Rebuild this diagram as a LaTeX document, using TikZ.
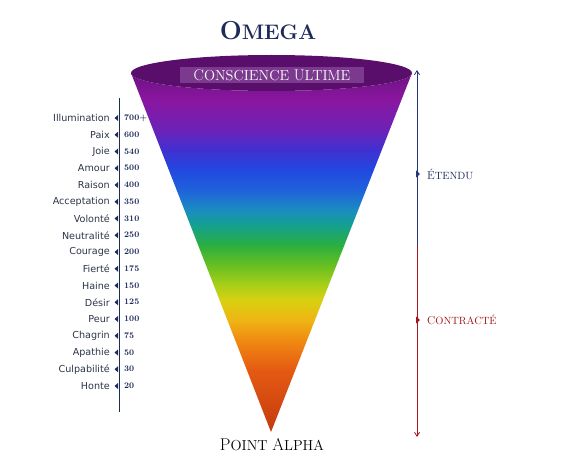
\documentclass[tikz,border=0pt]{standalone}
\usepackage{fontspec}
\usepackage{tikz}
\usetikzlibrary{arrows.meta}
\newfontfamily\levelfont{DejaVu Sans}

\definecolor{navy}{HTML}{1D2A5A}
\definecolor{lvltext}{HTML}{2C3448}
\definecolor{axisblue}{HTML}{24357A}
\definecolor{axisred}{HTML}{A3161C}
\definecolor{rimtop}{HTML}{5A0E6C}
\definecolor{rimband}{HTML}{8B4D9E}
\definecolor{c73}{HTML}{6E1284}
\definecolor{c100}{HTML}{8A16A0}
\definecolor{c130}{HTML}{6C22B8}
\definecolor{c150}{HTML}{4030D0}
\definecolor{c170}{HTML}{2248E0}
\definecolor{c190}{HTML}{1F62DC}
\definecolor{c210}{HTML}{1A8CC0}
\definecolor{c225}{HTML}{14A090}
\definecolor{c245}{HTML}{2AAE40}
\definecolor{c265}{HTML}{66BF22}
\definecolor{c285}{HTML}{A8CF18}
\definecolor{c300}{HTML}{D8D010}
\definecolor{c320}{HTML}{EFB514}
\definecolor{c340}{HTML}{F08A12}
\definecolor{c370}{HTML}{E55A12}
\definecolor{c432}{HTML}{C43A0E}

\pgfdeclareverticalshading{conebands}{100bp}{color(0bp)=(c432); color(25bp)=(c432);
  color(33.64bp)=(c370); color(37.81bp)=(c340); color(40.6bp)=(c320);
  color(43.38bp)=(c300); color(45.47bp)=(c285); color(48.26bp)=(c265);
  color(51.05bp)=(c245); color(53.83bp)=(c225); color(55.92bp)=(c210);
  color(58.7bp)=(c190); color(61.49bp)=(c170); color(64.28bp)=(c150);
  color(67.06bp)=(c130); color(71.24bp)=(c100); color(75bp)=(c73); color(100bp)=(c73)}

% big first letter, smaller capitals after it
\newcommand\trajcaps[4]{{\fontsize{#1}{#1}\selectfont #3\fontsize{#2}{#2}\selectfont #4}}

\begin{document}
\begin{tikzpicture}[x=1pt,y=-1pt,
  lvlname/.style={anchor=east,inner sep=0pt,text=lvltext,font=\levelfont\fontsize{9.6}{11}\selectfont},
  lvlval/.style={anchor=west,inner sep=0pt,text=navy,font=\fontsize{8.5}{10}\selectfont\bfseries},
  sidelabel/.style={anchor=west,inner sep=0pt}]

\useasboundingbox (0,0) rectangle (565,476);

% funnel
\coordinate (rimL) at (131,73);
\coordinate (rimR) at (412,73);
\coordinate (apex) at (271,432);

\shade[shading=conebands] (rimL) arc[start angle=180,end angle=0,x radius=140.5,y radius=18] -- (apex) -- cycle;
\fill[rimtop] (271.5,73) ellipse[x radius=140.5,y radius=18];
\fill[rimband,opacity=0.7] (180,67) rectangle (364,83);

\node (omega) at (268,31) {\color{navy}\bfseries\trajcaps{26}{21}{O}{MEGA}};
\node (ultime) at (272,75) {\color{white}\trajcaps{15.5}{14.5}{C}{ONSCIENCE }\trajcaps{15.5}{14.5}{U}{LTIME}};
\node (alpha) at (272,445) {\trajcaps{17}{14.5}{P}{OINT }\trajcaps{17}{14.5}{A}{LPHA}};

% left scale
\coordinate (axtop) at (119,98);
\coordinate (axbot) at (119,412);
\draw[navy,line width=0.7pt] (axtop) -- (axbot);

\foreach \lvl/\val [count=\i] in {Illumination/700+,Paix/600,Joie/540,Amour/500,
    Raison/400,Acceptation/350,Volonté/310,Neutralité/250,Courage/200,Fierté/175,
    Haine/150,Désir/125,Peur/100,Chagrin/75,Apathie/50,Culpabilité/30,Honte/20} {
  \node[lvlname] (lvl\i) at (110,{118+(\i-1)*16.75}) {\lvl};
  \node[lvlval] (val\i) at (124,{118+(\i-1)*16.75}) {\oldstylenums{\val}};
  \fill[navy] (114.5,{118+(\i-1)*16.75}) -- ++(3.5,-3) -- ++(0,6) -- cycle;
}

% right arrow
\coordinate (rtop) at (417,70);
\coordinate (rmid) at (417,245);
\coordinate (rbot) at (417,437);
\draw[axisblue,line width=0.8pt,-{Straight Barb[length=4pt,width=5pt]}] (rmid) -- (rtop);
\draw[axisred,line width=0.8pt,-{Straight Barb[length=4pt,width=5pt]}] (rmid) -- (rbot);

\fill[axisblue] (416,170.5) -- ++(4,3.5) -- ++(-4,3.5) -- cycle;
\fill[axisred] (416,316.5) -- ++(4,3.5) -- ++(-4,3.5) -- cycle;
\node[sidelabel,text=navy] (etendu) at (427,174) {\trajcaps{11.5}{10.5}{É}{TENDU}};
\node[sidelabel,text=axisred] (contracte) at (427,320) {\trajcaps{11.5}{10.5}{C}{ONTRACTÉ}};

\end{tikzpicture}
\end{document}
